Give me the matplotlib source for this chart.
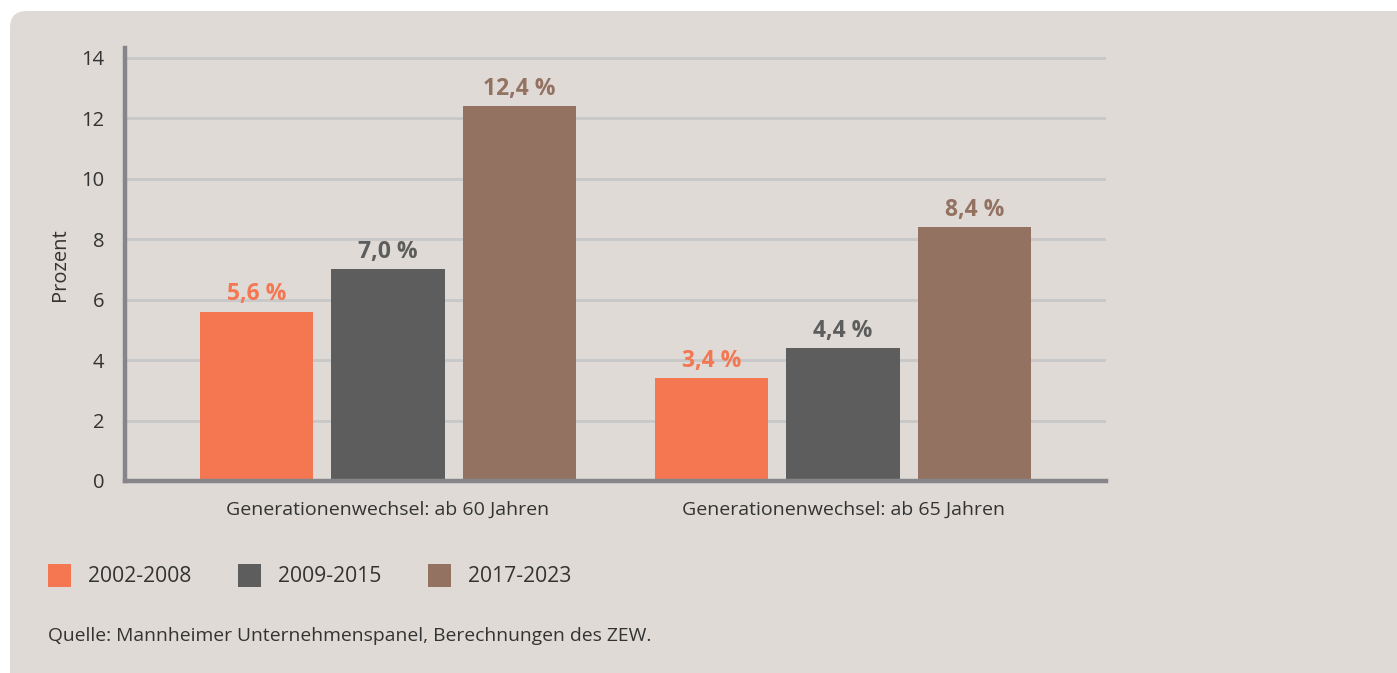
import numpy as np
import matplotlib.pyplot as plt
from matplotlib.patches import FancyBboxPatch, Rectangle

# ── Data ─────────────────────────────────────────────────────────────
categories = ["Generationenwechsel: ab 60 Jahren",
              "Generationenwechsel: ab 65 Jahren"]
periods    = ["2002-2008", "2009-2015", "2017-2023"]
v_2002     = [5.6, 3.4]
v_2009     = [7.0, 4.4]
v_2017     = [12.4, 8.4]

colors = ["#f47752", "#5c5d5c", "#947262"]
BG     = "#dfdad5"
TXT    = "#333333"

plt.rcParams['font.family'] = ['Open Sans', 'DejaVu Sans']

fig = plt.figure(figsize=(13.97, 6.73), dpi=100)
fig.patch.set_facecolor("white")

# rounded grey panel behind everything
panel = FancyBboxPatch((10 / 1397, -0.2), 1.2, 1.2 - 11 / 673,
                       boxstyle="round,pad=0,rounding_size=0.012",
                       transform=fig.transFigure, facecolor=BG,
                       edgecolor="none", zorder=-10, mutation_aspect=1397 / 673)
fig.patches.append(panel)

ax = fig.add_axes([125 / 1397, 1 - 481 / 673,
                   (1106 - 125) / 1397, (481 - 48) / 673])
ax.patch.set_alpha(0)

x = np.arange(len(categories))
w = 0.25
step = 0.289
for i, (vals, col) in enumerate(zip([v_2002, v_2009, v_2017], colors)):
    pos = x + (i - 1) * step
    ax.bar(pos, vals, width=w, color=col, zorder=3)
    for p, v in zip(pos, vals):
        ax.text(p, v + 0.18, f"{v:.1f} %".replace(".", ","), ha="center",
                va="bottom", color=col, fontsize=16.5, fontweight="bold",
                zorder=4)

ax.set_xlim(-0.578, 1.578)
ax.set_ylim(0, 14.33)
ax.set_yticks(np.arange(0, 15, 2))
ax.yaxis.grid(True, color="#c8c7c9", lw=2, zorder=1)
ax.set_axisbelow(True)
ax.tick_params(axis="y", length=0, labelsize=14.5, labelcolor=TXT, pad=15)
ax.set_xticks(x)
ax.set_xticklabels(categories)
ax.tick_params(axis="x", length=0, labelsize=14, labelcolor=TXT, pad=14)

for s in ["top", "right"]:
    ax.spines[s].set_visible(False)
for s in ["left", "bottom"]:
    ax.spines[s].set_color("#86868a")
    ax.spines[s].set_linewidth(3.2)
    ax.spines[s].set_zorder(5)

ax.set_ylabel("Prozent", fontsize=14.5, color=TXT, labelpad=8)

# ── Legend (manual squares + text) ──────────────────────────────────
leg_x = [48, 238, 428]
for lx, lab, col in zip(leg_x, periods, colors):
    fig.patches.append(Rectangle((lx / 1397, 1 - 587 / 673), 23 / 1397, 23 / 673,
                                 transform=fig.transFigure, facecolor=col,
                                 edgecolor="none", zorder=2))
    fig.text((lx + 40) / 1397, 1 - 576 / 673, lab, fontsize=15.2, color=TXT,
             va="center", ha="left")

fig.text(48 / 1397, 1 - 636 / 673,
         "Quelle: Mannheimer Unternehmenspanel, Berechnungen des ZEW.",
         fontsize=13.9, color=TXT, va="center", ha="left")

fig.savefig("out.png", dpi=100, facecolor=fig.get_facecolor())
